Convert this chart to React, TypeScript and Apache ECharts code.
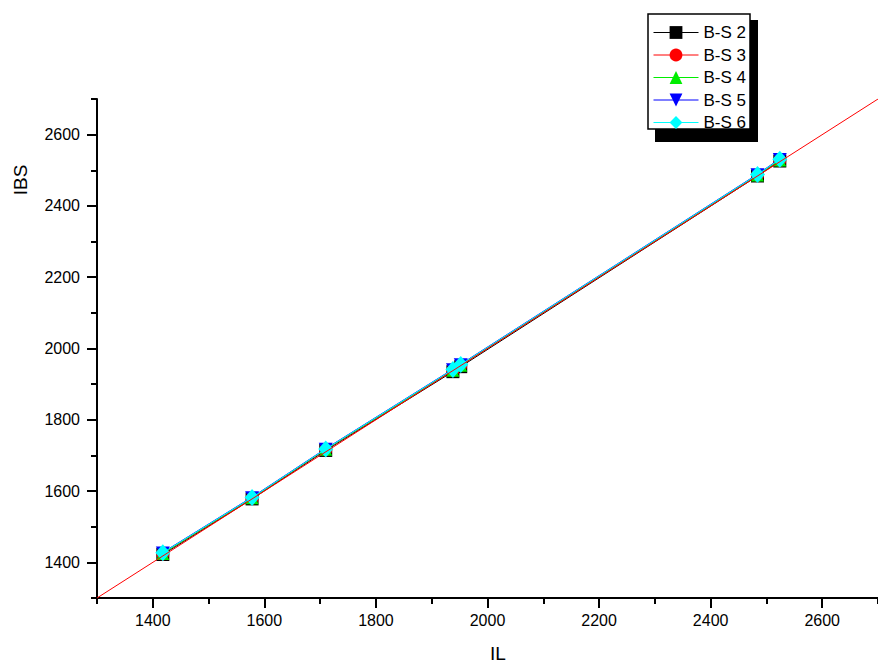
import React, { useEffect, useRef } from "react";
import * as echarts from "echarts";

const seriesNames = ["B-S 2", "B-S 3", "B-S 4", "B-S 5", "B-S 6"];
const seriesColors = ["#000000", "#ff0000", "#00ee00", "#0000ff", "#00ffff"];
const seriesSymbols = ["rect", "circle", "triangle", "path://M0,0L2,0L1,2Z", "diamond"];

const ilValues = [1418, 1578, 1710, 1938, 1952, 2484, 2524];
const bs2 = [1422, 1578, 1714, 1935, 1949, 2484, 2526];
const bs3 = [1424, 1580, 1716, 1938, 1952, 2486, 2528];
const bs4 = [1425, 1581, 1717, 1939, 1953, 2487, 2529];
const bs5 = [1428, 1583, 1719, 1942, 1956, 2489, 2532];
const bs6 = [1427, 1582, 1718, 1941, 1955, 2488, 2531];
const ibsSeries = [bs2, bs3, bs4, bs5, bs6];

const refLine = [
  [1300, 1300],
  [2700, 2700],
];

const majorTicks = [1400, 1600, 1800, 2000, 2200, 2400, 2600];
const minorTicks = [1300, 1500, 1700, 1900, 2100, 2300, 2500, 2700];

const FONT = "Liberation Sans";

export default function App() {
  const ref = useRef<HTMLDivElement>(null);
  useEffect(() => {
    if (!ref.current) return;
    const chart = echarts.init(ref.current, null, { renderer: "svg" });

    const mainAxis = (isX: boolean) => ({
      type: "value",
      gridIndex: 0,
      position: isX ? "bottom" : "left",
      min: 1300,
      max: 2700,
      interval: 100,
      axisLine: { show: true, onZero: false, lineStyle: { color: "#000", width: 2 } },
      axisTick: {
        show: true,
        inside: false,
        length: 10,
        customValues: majorTicks,
        lineStyle: { color: "#000", width: 2 },
      },
      axisLabel: {
        show: true,
        customValues: majorTicks,
        formatter: (v: number) => String(v),
        margin: isX ? 14 : 17,
        color: "#000",
        fontSize: 16,
        fontFamily: FONT,
      },
      splitLine: { show: false },
    });
    const minorAxis = (isX: boolean) => ({
      type: "value",
      gridIndex: 0,
      position: isX ? "bottom" : "left",
      offset: 0,
      min: 1300,
      max: 2700,
      interval: 100,
      axisLine: { show: false, onZero: false },
      axisTick: {
        show: true,
        inside: false,
        length: 6,
        customValues: minorTicks,
        lineStyle: { color: "#000", width: 2 },
      },
      axisLabel: { show: false },
      splitLine: { show: false },
    });

    const sizes: any[] = [13, 13, 13, [14, 12], [15, 17]];
    const dataSeries = seriesNames.map((name, i) => ({
      name,
      type: "line",
      xAxisIndex: 0,
      yAxisIndex: 0,
      data: ilValues.map((x, j) => [x, ibsSeries[i][j]]),
      symbol: seriesSymbols[i],
      symbolSize: sizes[i],
      showSymbol: true,
      color: seriesColors[i],
      itemStyle: { color: seriesColors[i], opacity: 1 },
      lineStyle: { color: seriesColors[i], width: 1 },
      z: 2 + i,
    }));

    chart.setOption({
      animation: false,
      backgroundColor: "#ffffff",
      grid: { left: 97, top: 99, width: 784, height: 499, containLabel: false },
      xAxis: [mainAxis(true), minorAxis(true)],
      yAxis: [mainAxis(false), minorAxis(false)],
      legend: {
        data: seriesNames,
        orient: "vertical",
        left: 648,
        top: 19,
        itemWidth: 45,
        itemHeight: 16,
        itemGap: 5.5,
        lineStyle: { width: 1 },
        textStyle: { color: "#000", fontSize: 17, fontFamily: FONT, lineHeight: 16 },
        selectedMode: false,
        z: 10,
      },
      graphic: [
        {
          type: "rect",
          shape: { x: 655, y: 20, width: 103, height: 122 },
          style: { fill: "#000" },
          z: 5,
        },
        {
          type: "rect",
          shape: { x: 648, y: 14, width: 102, height: 115 },
          style: { fill: "#fff", stroke: "#000", lineWidth: 1.5 },
          z: 6,
        },
        {
          type: "text",
          x: 20,
          y: 180,
          rotation: Math.PI / 2,
          style: {
            text: "IBS",
            fill: "#000",
            font: `19px ${FONT}`,
            align: "center",
            verticalAlign: "middle",
          },
        },
        {
          type: "text",
          x: 498,
          y: 653,
          style: {
            text: "IL",
            fill: "#000",
            font: `19px ${FONT}`,
            align: "center",
            verticalAlign: "middle",
          },
        },
      ],
      series: [
        ...dataSeries,
        {
          name: "y = x",
          type: "line",
          xAxisIndex: 0,
          yAxisIndex: 0,
          data: refLine,
          showSymbol: false,
          symbol: "none",
          color: "#ff0000",
          lineStyle: { color: "#ff0000", width: 1 },
          z: 20,
        },
      ],
    });
    return () => chart.dispose();
  }, []);
  return (
    <div
      ref={ref}
      style={{ position: "fixed", left: 0, top: 0, width: 878, height: 664, background: "#fff" }}
    />
  );
}
